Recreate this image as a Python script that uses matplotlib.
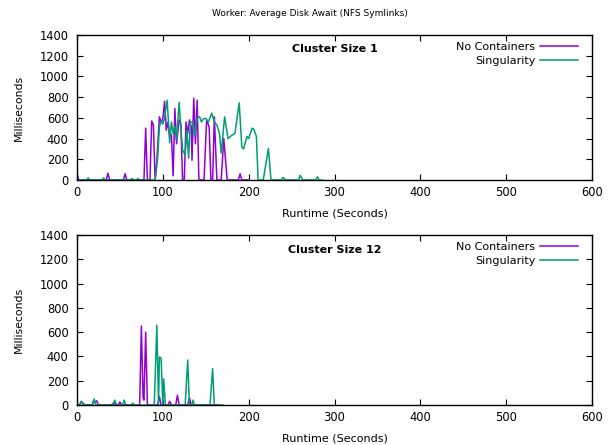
import matplotlib
matplotlib.use("Agg")
import matplotlib.pyplot as plt

# ---- data (time in s, await in ms) ----
nc1_t = [0, 2, 34, 36, 38, 54, 56, 58, 78, 80, 82, 85, 87, 89, 91, 93, 96, 98,
         100, 102, 104, 106, 108, 110, 112, 114, 116, 119, 121, 123, 125, 127,
         129, 131, 133, 134, 136, 138, 140, 142, 148, 151, 154, 156, 158, 160,
         163, 168, 171, 175, 188, 190, 192, 200]
nc1_v = [60, 0, 0, 65, 0, 0, 60, 0, 0, 500, 0, 0, 570, 530, 0, 180, 610, 560,
         590, 760, 480, 560, 410, 440, 40, 690, 350, 580, 540, 0, 0, 560,
         450, 580, 520, 190, 790, 350, 770, 0, 0, 580, 510, 0, 0, 610,
         0, 0, 400, 0, 0, 60, 0, 0]

sing1_t = [0, 11, 13, 15, 29, 31, 33, 62, 64, 66, 69, 71, 73, 89, 91, 94, 96,
           98, 100, 102, 105, 107, 108, 110, 112, 114, 116, 119, 121, 123, 126,
           128, 130, 132, 135, 137, 140, 143, 145, 147, 150, 153, 157, 160, 163,
           166, 168, 172, 176, 180, 184, 189, 192, 194, 198, 200, 204, 206, 209,
           211, 217, 223, 226, 238, 240, 243, 258, 260, 263, 278, 280, 282, 286]
sing1_v = [0, 0, 20, 0, 0, 20, 0, 0, 15, 0, 0, 15, 0, 0, 0, 220, 515,
           570, 540, 600, 770, 500, 360, 560, 450, 520, 390, 750, 500, 290, 240,
           480, 210, 560, 560, 420, 600, 610, 560, 590, 595, 560, 645, 560, 530,
           450, 260, 610, 400, 430, 450, 745, 320, 300, 420, 400, 500, 490, 420,
           0, 0, 305, 0, 0, 25, 0, 0, 45, 0, 0, 30, 0, 0]

nc12_t = [0, 3, 5, 7, 9, 18, 19, 21, 23, 25, 40, 43, 45, 48, 50, 52, 73, 75,
          77, 78, 80, 82, 94, 96, 98, 106, 108, 110, 115, 117, 119, 129, 131,
          133, 165]
nc12_v = [0, 0, 30, 15, 0, 0, 30, 20, 35, 0, 0, 20, 0, 0, 25, 0, 0, 650,
          60, 40, 600, 0, 0, 70, 0, 0, 30, 0, 0, 80, 0, 0, 60,
          0, 0]

sing12_t = [0, 3, 5, 7, 18, 20, 22, 42, 44, 46, 53, 55, 57, 63, 65, 67, 90, 93,
            95, 96, 98, 100, 101, 103, 126, 129, 131, 134, 135, 137, 155, 158,
            160, 170]
sing12_v = [0, 0, 30, 0, 0, 50, 0, 0, 40, 0, 0, 40, 0, 0, 15, 0, 0, 656,
            0, 395, 385, 0, 215, 0, 0, 370, 0, 0, 40, 0, 0, 300,
            0, 0]

panels = [("Cluster Size 1", nc1_t, nc1_v, sing1_t, sing1_v),
          ("Cluster Size 12", nc12_t, nc12_v, sing12_t, sing12_v)]

purple = "#9400d3"
green = "#009e73"

fig = plt.figure(figsize=(6.13, 4.45), dpi=100)
rects = [[77/613, 1 - 180/445, 515/613, 145/445],
         [77/613, 1 - 405/445, 515/613, 170/445]]

for rect, (name, t1, v1, t2, v2) in zip(rects, panels):
    ax = fig.add_axes(rect)
    ax.plot(t1, v1, color=purple, lw=1.1, label="No Containers")
    ax.plot(t2, v2, color=green, lw=1.1, label="Singularity")
    ax.set_xlim(0, 600)
    ax.set_ylim(0, 1400)
    ax.set_xticks(range(0, 601, 100))
    ax.set_yticks(range(0, 1401, 200))
    ax.tick_params(direction="in", top=True, right=True, length=4,
                   width=0.8, labelsize=8.3, pad=4)
    ax.tick_params(axis="y", pad=6)
    for s in ax.spines.values():
        s.set_linewidth(1.0)
    ax.set_xlabel("Runtime (Seconds)", fontsize=8, labelpad=7)
    ax.set_ylabel("Milliseconds", fontsize=7.8, labelpad=11)
    ax.text(0.5, 0.94, name, transform=ax.transAxes, ha="center", va="top",
            fontsize=8, fontweight="bold")
    ax.legend(loc="upper right", bbox_to_anchor=(0.985, 1.0), frameon=False,
              markerfirst=False, fontsize=8, handlelength=3.4,
              handletextpad=0.4, labelspacing=0.35, borderaxespad=0.2)

fig.text(0.505, 1 - 14/445, "Worker: Average Disk Await (NFS Symlinks)",
         ha="center", va="center", fontsize=6.5)

fig.savefig("out.png", dpi=100)
